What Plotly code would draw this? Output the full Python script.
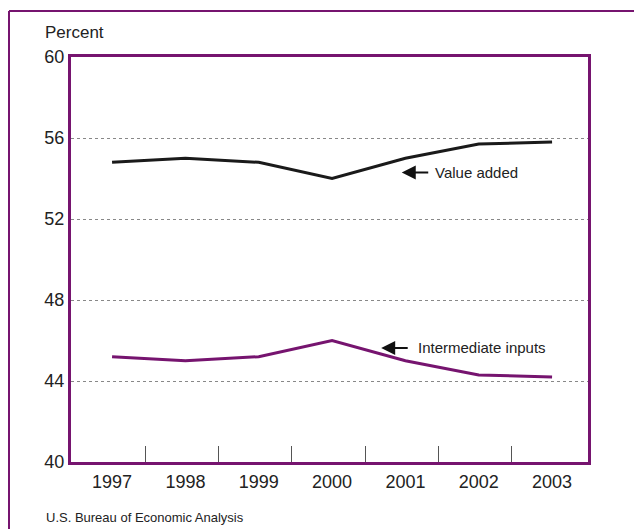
import plotly.graph_objects as go

years = [1997, 1998, 1999, 2000, 2001, 2002, 2003]
value_added = [54.8, 55.0, 54.8, 54.0, 55.0, 55.7, 55.8]
intermediate = [45.2, 45.0, 45.2, 46.0, 45.0, 44.3, 44.2]
y_ticks = [40, 44, 48, 52, 56, 60]

purple = "#76146f"
font = "Liberation Sans, Arial, sans-serif"

# plot area in figure pixels
L, T, PW, PH = 63, 49, 517, 405
W, H = 642, 529


def px(x):
    return (x - L) / PW


def py(y):
    return 1 - (y - T) / PH


fig = go.Figure()
fig.add_trace(go.Scatter(x=years, y=value_added, mode="lines",
                         line=dict(color="#1a1a1a", width=3), name="Value added"))
fig.add_trace(go.Scatter(x=years, y=intermediate, mode="lines",
                         line=dict(color=purple, width=3), name="Intermediate inputs"))

fig.update_xaxes(
    range=[1996.44, 2003.49], tickvals=years, ticktext=[str(y) for y in years],
    ticks="", showgrid=False, zeroline=False, ticklabelstandoff=1,
    showline=True, mirror=True, linecolor=purple, linewidth=3,
    tickfont=dict(size=18, color="#222"),
    minor=dict(tickvals=[y + 0.45 for y in years[:-1]], ticks="inside",
               ticklen=16, tickwidth=1, tickcolor="#555", showgrid=False),
)
fig.update_yaxes(
    range=[40, 60], tickvals=y_ticks, ticks="", zeroline=False,
    showgrid=True, gridcolor="#888", griddash="dot", gridwidth=1,
    showline=True, mirror=True, linecolor=purple, linewidth=3,
    tickfont=dict(size=18, color="#222"),
)

fig.add_annotation(x=2000.95, y=54.3, ax=28, ay=0, xref="x", yref="y",
                   text="", showarrow=True, arrowhead=2, arrowsize=1.4,
                   arrowwidth=2, arrowcolor="#111")
fig.add_annotation(x=2001.37, y=54.3, xref="x", yref="y", text="Value added",
                   showarrow=False, xanchor="left", font=dict(size=15, color="#222"))
fig.add_annotation(x=2000.67, y=45.63, ax=28, ay=0, xref="x", yref="y",
                   text="", showarrow=True, arrowhead=2, arrowsize=1.4,
                   arrowwidth=2, arrowcolor="#111")
fig.add_annotation(x=2001.14, y=45.63, xref="x", yref="y", text="Intermediate inputs",
                   showarrow=False, xanchor="left", font=dict(size=15, color="#222"))

fig.add_annotation(x=px(35), y=py(25), xref="paper", yref="paper", text="Percent",
                   showarrow=False, xanchor="left", yanchor="middle",
                   font=dict(size=17, color="#222"))
fig.add_annotation(x=px(36), y=py(510), xref="paper", yref="paper",
                   text="U.S. Bureau of Economic Analysis", showarrow=False,
                   xanchor="left", yanchor="middle", font=dict(size=13, color="#222"))

# outer frame
fig.add_shape(type="line", xref="paper", yref="paper", x0=px(1), x1=px(W + 20),
              y0=py(3), y1=py(3), line=dict(color=purple, width=2))
fig.add_shape(type="line", xref="paper", yref="paper", x0=px(1), x1=px(1),
              y0=py(3), y1=py(H + 20), line=dict(color=purple, width=2))

fig.update_layout(
    width=W, height=H, showlegend=False,
    margin=dict(l=L, r=W - L - PW, t=T, b=H - T - PH, autoexpand=False),
    paper_bgcolor="white", plot_bgcolor="white",
    font=dict(family=font, color="#222"),
)

fig.write_html("out.html")
